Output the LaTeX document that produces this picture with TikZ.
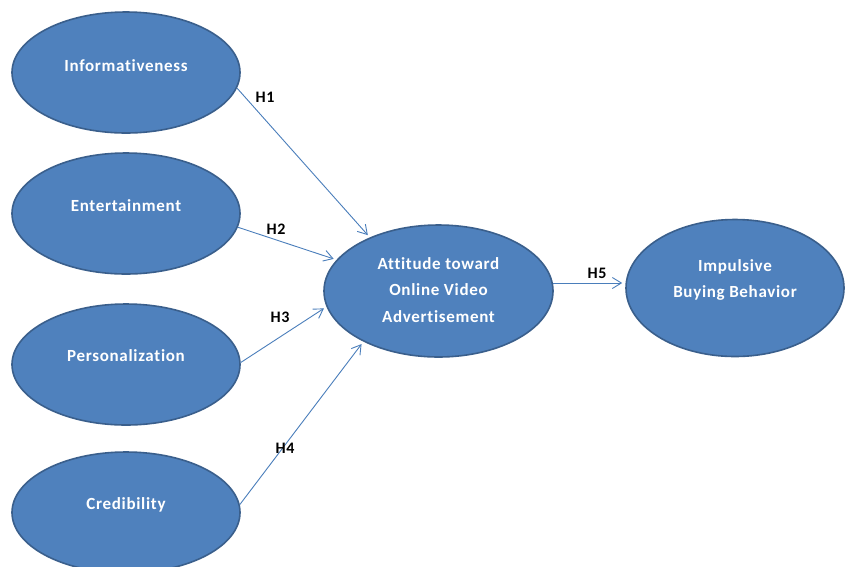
\documentclass[tikz,border=0pt]{standalone}
\usepackage{fontspec}
\setmainfont{Carlito}[LetterSpace=4.0, Ligatures={NoCommon,NoRare}, RawFeature={-liga;-clig}]
\usetikzlibrary{shapes.geometric,arrows.meta}
\definecolor{fillblue}{HTML}{4F81BD}
\definecolor{edgeblue}{HTML}{3A5F8C}
\definecolor{arrowblue}{HTML}{4A7EBB}
\newcommand{\lift}[2]{\raisebox{#1}[\height][\depth]{#2}}
\begin{document}
\begin{tikzpicture}[x=1pt,y=-1pt,
  oval/.style={ellipse, draw=edgeblue, line width=1.6pt, fill=fillblue, text=white,
    font=\fontsize{17}{26.5}\selectfont\bfseries, align=center, inner sep=0pt},
  leftoval/.style={oval, minimum width=228pt, minimum height=121pt},
  arr/.style={draw=arrowblue, line width=0.9pt, -{Straight Barb[length=9pt,width=11pt]}, shorten >=3pt},
  hlab/.style={font=\fontsize{16}{18}\selectfont\bfseries, text=black, inner sep=0pt}]
\useasboundingbox (0,0) rectangle (845,566);
\fill[white] (0,0) rectangle (845,566);

\node[leftoval] (inf) at (126,72.5) {\lift{7pt}{Informativeness}};
\node[leftoval] (ent) at (126,213.5) {\lift{8pt}{Entertainment}};
\node[leftoval] (per) at (126,364.5) {\lift{9pt}{Personalization}};
\node[leftoval] (cre) at (126,512.5) {\lift{8pt}{Credibility}};
\node[oval, minimum width=229pt, minimum height=132pt] (att) at (438.5,291)
  {\lift{1pt}{Attitude toward}\\\lift{1pt}{Online Video}\\\lift{1pt}{Advertisement}};
\node[oval, minimum width=218pt, minimum height=137pt] (imp) at (735,288)
  {\lift{8pt}{Impulsive}\\\lift{8pt}{Buying Behavior}};

\draw[arr] (inf.-8) -- (att.142);
\draw[arr] (ent.-7) -- (att.163);
\draw[arr] (per.1) -- (att.-172);
\draw[arr] (cre.4) -- (att.-146);
\draw[arr] (att.4) -- (att.4 -| imp.west);

\node[hlab] (h1) at (265,97) {H1};
\node[hlab] (h2) at (276,229) {H2};
\node[hlab] (h3) at (280,317) {H3};
\node[hlab] (h4) at (285,448) {H4};
\node[hlab] (h5) at (597,273) {H5};
\end{tikzpicture}
\end{document}
